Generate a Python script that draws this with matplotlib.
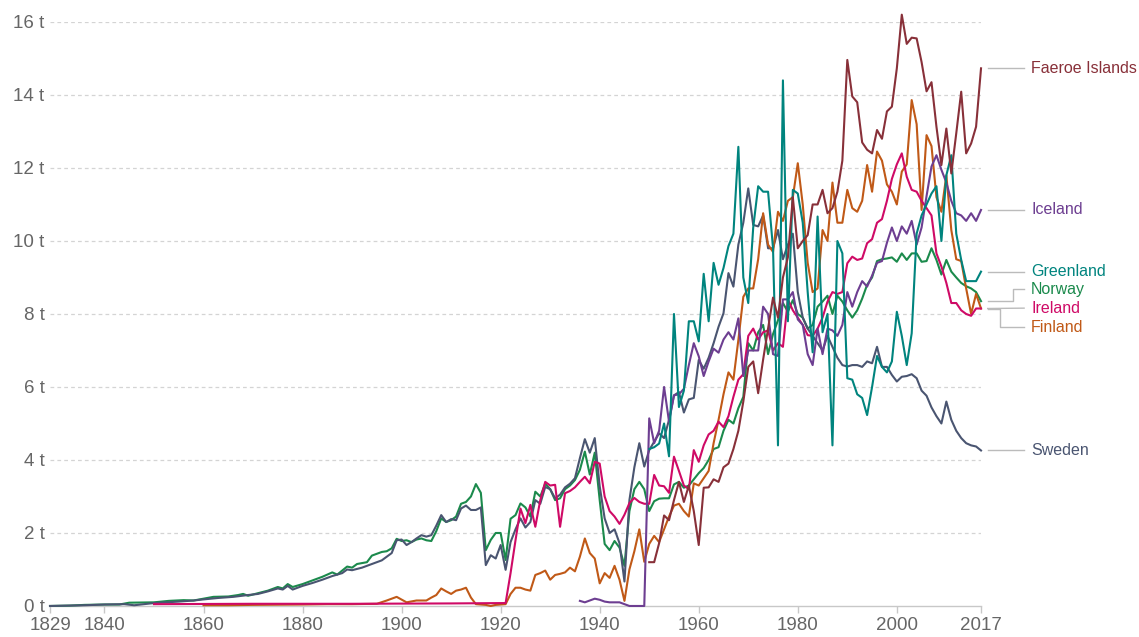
import matplotlib.pyplot as plt

plt.rcParams['font.family'] = ['Liberation Sans', 'DejaVu Sans']

# ---- data (tonnes CO2 per capita) ----
norway_years = [1829, 1833, 1836, 1840, 1843, 1845, 1850, 1853, 1856, 1858, 1860, 1862,
                1865, 1867, 1868, 1869, 1871, 1873, 1875, 1876, 1877, 1878, 1880, 1882,
                1884, 1886, 1887, 1889, 1890, 1891, 1893, 1894, 1896, 1897, 1898] + list(range(1899, 2018))
norway_vals = [0.0, 0.01, 0.03, 0.04, 0.04, 0.09, 0.1, 0.14, 0.16, 0.15, 0.2, 0.25,
               0.26, 0.3, 0.33, 0.28, 0.35, 0.42, 0.52, 0.48, 0.6, 0.52, 0.6, 0.7,
               0.8, 0.92, 0.86, 1.08, 1.05, 1.15, 1.2, 1.38, 1.48, 1.5, 1.58,
               1.84, 1.78, 1.8, 1.75, 1.82, 1.85, 1.8, 1.78, 2.05, 2.4,
               2.3, 2.35, 2.45, 2.8, 2.85, 3.0, 3.34, 3.1, 1.53, 1.81,
               2.0, 2.0, 1.26, 2.39, 2.49, 2.81, 2.7, 2.45, 3.13, 3.0,
               3.35, 3.2, 2.9, 2.95, 3.2, 3.3, 3.45, 3.73, 4.23, 3.6,
               4.2, 2.9, 1.7, 1.53, 1.78, 1.6, 1.1, 2.6, 3.2, 3.4,
               3.2, 2.6, 2.87, 2.94, 2.95, 2.95, 3.33, 3.4, 3.24, 3.3,
               3.47, 3.64, 3.78, 4.0, 4.3, 4.35, 4.8, 5.1, 5.0, 5.42,
               5.73, 7.2, 7.0, 7.5, 7.7, 6.9, 7.45, 7.83, 8.3, 8.06,
               8.38, 8.0, 7.9, 7.6, 7.7, 8.2, 8.34, 8.5, 8.0, 8.5,
               8.34, 8.1, 7.9, 8.1, 8.42, 8.8, 9.0, 9.45, 9.5, 9.52,
               9.55, 9.43, 9.66, 9.48, 9.66, 9.66, 9.43, 9.45, 9.8, 9.48,
               9.08, 9.48, 9.16, 9.0, 8.85, 8.76, 8.7, 8.6, 8.35]

sweden_years = [1829, 1833, 1836, 1840, 1844, 1846, 1850, 1855, 1858, 1860, 1863, 1866,
                1869, 1871, 1873, 1875, 1876, 1877, 1878, 1880, 1882, 1884, 1886, 1888,
                1889, 1890, 1892, 1894, 1896, 1898] + list(range(1899, 2018))
sweden_vals = [0.0, 0.01, 0.02, 0.04, 0.05, 0.02, 0.08, 0.12, 0.15, 0.18, 0.22, 0.25,
               0.3, 0.33, 0.4, 0.48, 0.45, 0.55, 0.45, 0.55, 0.63, 0.72, 0.82, 0.9,
               1.0, 0.98, 1.05, 1.15, 1.25, 1.45,
               1.8, 1.82, 1.67, 1.75, 1.85, 1.94, 1.9, 1.94, 2.2, 2.49,
               2.3, 2.38, 2.35, 2.67, 2.75, 2.63, 2.63, 2.7, 1.12, 1.39,
               1.3, 1.67, 0.99, 1.75, 2.1, 2.4, 2.15, 2.3, 2.9, 2.8,
               3.26, 3.2, 2.95, 3.05, 3.25, 3.35, 3.5, 4.05, 4.57, 4.2,
               4.6, 3.28, 2.4, 2.0, 2.1, 1.72, 0.67, 2.9, 3.8, 4.46,
               3.82, 4.27, 4.5, 4.73, 4.6, 5.1, 5.77, 5.86, 5.3, 5.66,
               5.7, 6.74, 6.5, 6.8, 7.2, 7.65, 8.02, 9.12, 8.75, 9.9,
               10.5, 11.44, 10.44, 10.4, 10.7, 9.8, 9.8, 10.3, 9.5, 9.9,
               10.2, 8.6, 7.9, 7.6, 7.4, 7.2, 7.0, 7.4, 7.1, 6.8,
               6.6, 6.56, 6.6, 6.6, 6.55, 6.7, 6.65, 7.1, 6.55, 6.55,
               6.33, 6.15, 6.28, 6.3, 6.35, 6.24, 5.9, 5.76, 5.44, 5.2,
               5.0, 5.6, 5.1, 4.8, 4.6, 4.46, 4.4, 4.37, 4.26]

ireland_years = [1850, 1870, 1890, 1910, 1921] + list(range(1922, 2018))
ireland_vals = [0.05, 0.06, 0.06, 0.07, 0.08,
                0.9, 1.8, 2.67, 2.27, 2.77, 2.17, 2.9, 3.4, 3.3, 3.32,
                2.17, 3.09, 3.15, 3.25, 3.4, 3.54, 3.36, 3.95, 3.9, 3.0,
                2.6, 2.45, 2.25, 2.5, 2.82, 2.96, 2.85, 2.8, 2.8, 3.59,
                3.3, 3.28, 3.1, 4.09, 3.7, 3.3, 3.2, 4.27, 3.95, 4.4,
                4.7, 4.8, 5.05, 4.9, 5.2, 5.73, 6.2, 6.35, 7.4, 7.6,
                7.3, 7.5, 7.55, 7.0, 7.2, 7.1, 8.4, 8.1, 7.9, 7.7,
                7.42, 7.4, 7.6, 7.9, 8.34, 8.6, 8.55, 8.6, 9.39, 9.57,
                9.48, 9.52, 9.94, 10.05, 10.5, 10.6, 11.1, 11.7, 12.1, 12.4,
                11.76, 11.4, 11.35, 11.1, 10.9, 10.7, 9.66, 9.3, 8.85, 8.3,
                8.3, 8.1, 8.0, 7.95, 8.15, 8.15]

finland_years = [1860, 1865, 1870, 1880, 1885, 1890, 1895, 1897, 1899, 1901, 1903,
                 1905] + list(range(1906, 2018))
finland_vals = [0.02, 0.02, 0.03, 0.04, 0.05, 0.05, 0.06, 0.15, 0.25, 0.1, 0.15,
                0.15,
                0.23, 0.3, 0.48, 0.4, 0.33, 0.42, 0.45, 0.5, 0.23, 0.05,
                0.04, 0.03, 0.0, 0.03, 0.04, 0.05, 0.33, 0.5, 0.5, 0.45,
                0.42, 0.85, 0.9, 0.97, 0.72, 0.85, 0.88, 0.92, 1.05, 0.95,
                1.35, 1.85, 1.45, 1.3, 0.62, 0.9, 0.77, 1.1, 0.72, 0.14,
                1.0, 1.5, 2.1, 1.21, 1.7, 1.92, 1.75, 2.1, 2.45, 2.75,
                2.8, 2.6, 2.45, 3.36, 3.3, 3.5, 3.7, 4.46, 5.1, 5.8,
                6.4, 6.2, 7.29, 8.47, 8.7, 8.7, 9.5, 10.76, 9.9, 9.7,
                10.8, 10.55, 11.1, 11.2, 12.13, 11.0, 9.4, 8.6, 8.7, 10.3,
                10.0, 11.6, 10.5, 10.5, 11.4, 10.9, 10.8, 11.1, 12.08, 11.35,
                12.45, 12.2, 11.55, 11.35, 11.0, 11.9, 12.1, 13.86, 13.2, 10.85,
                12.9, 12.6, 11.2, 10.8, 11.8, 10.3, 9.5, 9.45, 8.7, 8.0,
                8.55, 8.15]

iceland_years = list(range(1936, 2018))
iceland_vals = [0.14, 0.1, 0.15, 0.2, 0.17, 0.12, 0.1, 0.1, 0.1, 0.05,
                0.0, 0.0, 0.0, 0.0, 5.14, 4.46, 4.8, 6.0, 5.05, 5.77,
                5.8, 5.95, 6.6, 7.2, 6.84, 6.3, 6.7, 7.05, 6.94, 7.3,
                7.5, 7.3, 7.88, 6.3, 7.0, 7.0, 7.0, 8.2, 8.0, 6.9,
                6.85, 8.4, 8.4, 8.6, 7.85, 7.7, 6.9, 6.6, 7.6, 6.9,
                7.6, 7.55, 7.4, 7.7, 8.6, 8.2, 8.6, 8.9, 8.75, 9.05,
                9.4, 9.45, 9.95, 10.37, 10.0, 10.4, 10.2, 10.55, 9.9, 10.37,
                11.23, 12.04, 12.35, 11.95, 11.6, 11.1, 10.76, 10.7, 10.55, 10.76,
                10.55, 10.85]

greenland_years = list(range(1950, 2018))
greenland_vals = [4.3, 4.35, 4.45, 5.0, 4.1, 8.0, 5.45, 5.9, 7.8, 7.8,
                  7.25, 9.1, 7.8, 9.4, 8.8, 9.26, 9.86, 10.2, 12.58, 9.0,
                  8.3, 10.37, 11.5, 11.35, 11.35, 9.8, 4.4, 14.4, 7.8, 11.4,
                  11.3, 10.5, 8.6, 6.95, 10.67, 7.5, 8.0, 4.4, 10.0, 9.66,
                  6.24, 6.2, 5.8, 5.7, 5.23, 6.0, 6.85, 6.55, 6.4, 6.7,
                  8.06, 7.4, 6.6, 7.47, 10.2, 10.7, 11.0, 11.3, 11.5, 10.0,
                  11.8, 12.35, 10.2, 9.48, 8.9, 8.9, 8.9, 9.16]

faeroe_years = list(range(1950, 2018))
faeroe_vals = [1.2, 1.2, 1.72, 2.48, 2.35, 2.9, 3.4, 2.85, 3.3, 2.6,
               1.67, 3.24, 3.25, 3.47, 3.4, 3.8, 3.9, 4.3, 4.8, 5.6,
               6.55, 6.7, 5.83, 6.75, 7.6, 8.45, 7.9, 9.0, 9.55, 11.2,
               9.8, 10.0, 10.16, 11.0, 11.0, 11.4, 10.76, 10.9, 11.35, 12.2,
               14.96, 13.96, 13.8, 12.7, 12.5, 12.4, 13.04, 12.8, 13.55, 13.68,
               14.73, 16.2, 15.4, 15.57, 15.55, 14.9, 14.1, 14.35, 13.13, 12.08,
               13.08, 11.85, 12.95, 14.09, 12.4, 12.67, 13.13, 14.73]

# name, years, values, colour, label y, elbow x (None = straight connector)
series = [
    ("Norway", norway_years, norway_vals, "#1b8a4c", 8.68, 2023.4),
    ("Sweden", sweden_years, sweden_vals, "#4a5571", 4.26, None),
    ("Finland", finland_years, finland_vals, "#c05917", 7.64, 2020.9),
    ("Ireland", ireland_years, ireland_vals, "#cf0a66", 8.16, None),
    ("Iceland", iceland_years, iceland_vals, "#6d3e91", 10.85, None),
    ("Greenland", greenland_years, greenland_vals, "#00847e", 9.16, None),
    ("Faeroe Islands", faeroe_years, faeroe_vals, "#883039", 14.73, None),
]

x_ticks = [1829, 1840, 1860, 1880, 1900, 1920, 1940, 1960, 1980, 2000, 2017]
y_ticks = [0, 2, 4, 6, 8, 10, 12, 14, 16]

fig = plt.figure(figsize=(11.39, 6.37), dpi=100)
ax = fig.add_axes([0.0439, 0.0487, 0.8174, 0.9168])

for name, yrs, vals, color, label_y, elbow in series:
    ax.plot(yrs, vals, color=color, lw=1.5, solid_joinstyle='round', clip_on=False, zorder=3)
    end_y = vals[-1]
    if elbow is None:
        ax.plot([2018.35, 2025.7], [end_y, label_y], color='#bbbbbb', lw=1, clip_on=False)
    else:
        ax.plot([2018.35, elbow, elbow, 2025.7], [end_y, end_y, label_y, label_y],
                color='#bbbbbb', lw=1, clip_on=False)
    ax.text(2027.1, label_y, name, color=color, fontsize=11.5, va='center', ha='left')

ax.set_xlim(1829, 2017)
ax.set_ylim(0, 16)
ax.set_xticks(x_ticks)
ax.set_xticklabels([str(t) for t in x_ticks])
ax.set_yticks(y_ticks)
ax.set_yticklabels([f"{t} t" for t in y_ticks])

for t in y_ticks[1:]:
    ax.axhline(t, color='#d4d4d4', lw=0.9, linestyle=(0, (3, 2.5)), zorder=1)

for s in ['top', 'right', 'left']:
    ax.spines[s].set_visible(False)
ax.spines['bottom'].set_color('#c8c8c8')
ax.spines['bottom'].set_linewidth(1)

ax.tick_params(axis='y', length=0, pad=4, labelsize=13.5, labelcolor='#666666')
ax.tick_params(axis='x', length=5, width=1, color='#c8c8c8', pad=3,
               labelsize=13.5, labelcolor='#666666')

plt.savefig('out.png', dpi=100)
